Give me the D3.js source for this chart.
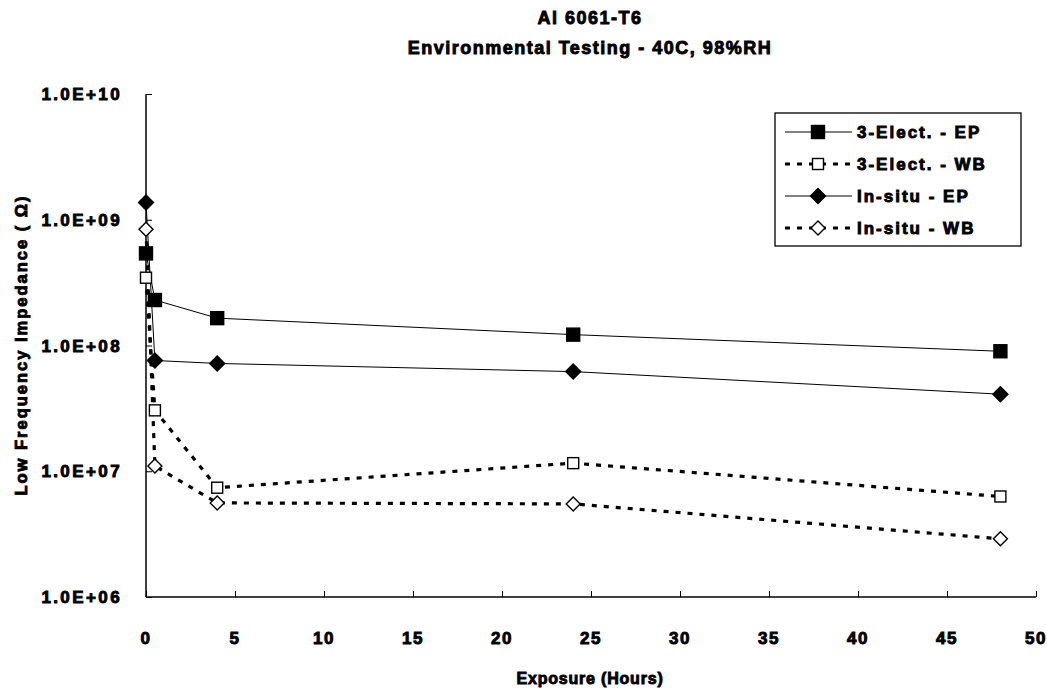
<!DOCTYPE html>
<html><head><meta charset="utf-8">
<script src="https://cdn.jsdelivr.net/npm/d3@7"></script>
<style>
body{margin:0;background:#fff;}
text{font-family:"Liberation Sans",Arial,sans-serif;font-weight:bold;fill:#000;stroke:#000;stroke-width:0.9px;}
</style></head>
<body><svg id="c" width="1047" height="692"></svg>
<script>
const hours = [0, 0.5, 4, 24, 48];
const elec3EP = [5.4e8, 2.3e8, 1.65e8, 1.22e8, 9.0e7];
const elec3WB = [3.46e8, 3.05e7, 7.4e6, 1.16e7, 6.3e6];
const insituEP = [1.37e9, 7.6e7, 7.2e7, 6.2e7, 4.1e7];
const insituWB = [8.4e8, 1.1e7, 5.6e6, 5.5e6, 2.9e6];
const seriesNames = ["3-Elect. - EP", "3-Elect. - WB", "In-situ - EP", "In-situ - WB"];
const xTicks = [0,5,10,15,20,25,30,35,40,45,50];
const yTicks = [1e6,1e7,1e8,1e9,1e10];
const titleLines = ["Al 6061-T6", "Environmental Testing - 40C, 98%RH"];
const xTitle = "Exposure (Hours)";
const yTitle = "Low Frequency Impedance ( \u03A9)";

const svg = d3.select("#c");
const x = d3.scaleLinear().domain([0,50]).range([146,1036]);
const y = d3.scaleLog().domain([1e6,1e10]).range([597,94]);

// axes
const xAxis = d3.axisBottom(x).tickValues(xTicks).tickSize(-6).tickFormat("");
const gx = svg.append("g").attr("transform","translate(0,597)").call(xAxis);
gx.select(".domain").attr("d", `M${x(0)},0H${x(50)}`).attr("stroke","#000").attr("stroke-width",1.5);
gx.selectAll(".tick line").attr("stroke","#000");
const yAxis = d3.axisLeft(y).tickValues(yTicks).tickSize(-6).tickFormat("");
const gy = svg.append("g").attr("transform","translate(146,0)").call(yAxis);
gy.select(".domain").attr("d", `M0,${y(1e10)}V${y(1e6)}`).attr("stroke","#000").attr("stroke-width",1.5);
gy.selectAll(".tick line").attr("stroke","#000");

// tick labels
svg.append("g").selectAll("text").data(xTicks).join("text")
  .attr("x", d=>x(d)).attr("y", 644).attr("text-anchor","middle")
  .style("font-size","17px").style("letter-spacing","1.5px").text(d=>d);
const fmt = d => "1.0E+" + String(Math.round(Math.log10(d))).padStart(2,"0");
svg.append("g").selectAll("text").data(yTicks).join("text")
  .attr("x", 122).attr("y", d=>y(d)+6).attr("text-anchor","end")
  .style("font-size","17px").style("letter-spacing","2.4px").text(fmt);

// titles
svg.append("g").selectAll("text").data(titleLines).join("text")
  .attr("x", 590).attr("y",(d,i)=>24+i*30).attr("text-anchor","middle")
  .style("font-size","18px").style("letter-spacing","1.5px").text(d=>d);
svg.append("text").attr("x",590).attr("y",684).attr("text-anchor","middle")
  .style("font-size","16px").style("letter-spacing","0.8px").text(xTitle);
svg.append("text").attr("transform","translate(27,345) rotate(-90)").attr("text-anchor","middle")
  .style("font-size","16.5px").style("letter-spacing","2px").text(yTitle);

// series
const series = [
  {name:seriesNames[0], vals:elec3EP, dash:null, w:1, shape:"square", fill:"#000"},
  {name:seriesNames[1], vals:elec3WB, dash:"5,7", w:3.2, shape:"square", fill:"#fff"},
  {name:seriesNames[2], vals:insituEP, dash:null, w:1, shape:"diamond", fill:"#000"},
  {name:seriesNames[3], vals:insituWB, dash:"5,7", w:3.2, shape:"diamond", fill:"#fff"}
];
const line = d3.line().x(d=>x(d[0])).y(d=>y(d[1]));
function marker(g, s, cx, cy){
  if(s.shape==="square"){
    const sz = s.fill==="#000"?13:11;
    g.append("rect").attr("x",cx-sz/2).attr("y",cy-sz/2).attr("width",sz).attr("height",sz)
      .attr("fill",s.fill).attr("stroke","#000").attr("stroke-width",1.4);
  } else {
    const r = s.fill==="#000"?7.5:7;
    g.append("path").attr("d",`M${cx},${cy-r}L${cx+r},${cy}L${cx},${cy+r}L${cx-r},${cy}Z`)
      .attr("fill",s.fill).attr("stroke","#000").attr("stroke-width",1.4);
  }
}
series.forEach(s=>{
  const pts = hours.map((h,i)=>[h,s.vals[i]]);
  svg.append("path").datum(pts).attr("d",line).attr("fill","none")
    .attr("stroke","#000").attr("stroke-width",s.w).attr("stroke-dasharray",s.dash);
});
series.forEach(s=>{
  const g = svg.append("g");
  hours.forEach((h,i)=>marker(g,s,x(h),y(s.vals[i])));
});

// legend
const lg = svg.append("g");
lg.append("rect").attr("x",775).attr("y",113).attr("width",246).attr("height",133)
  .attr("fill","#fff").attr("stroke","#000").attr("stroke-width",1.3);
const rows = [132,164,196,228];
series.forEach((s,i)=>{
  lg.append("line").attr("x1",785).attr("x2",852).attr("y1",rows[i]).attr("y2",rows[i])
    .attr("stroke","#000").attr("stroke-width",s.w).attr("stroke-dasharray",s.dash);
  marker(lg,s,818,rows[i]);
  lg.append("text").attr("x",857).attr("y",rows[i]+6)
    .style("font-size","17px").style("letter-spacing","2px").text(s.name);
});
</script></body></html>
